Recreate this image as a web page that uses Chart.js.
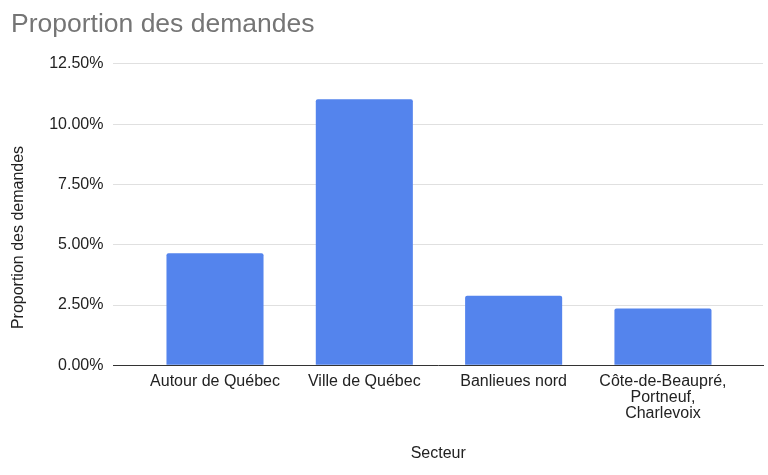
<!DOCTYPE html>
<html lang="fr">
<head>
<meta charset="utf-8">
<script src="https://cdn.jsdelivr.net/npm/chart.js@4/dist/chart.umd.min.js"></script>
<style>
    html, body { margin: 0; padding: 0; background: #ffffff; }
    #wrap { width: 768px; height: 475px; }
</style>
</head>
<body>
<div id="wrap"><canvas id="graphique"></canvas></div>
<script>
// Données du graphique
const secteurs = [
    'Autour de Québec',
    'Ville de Québec',
    'Banlieues nord',
    ['Côte-de-Beaupré,', 'Portneuf,', 'Charlevoix']
];
const proportions = [4.65, 11.03, 2.88, 2.36];
const ticksY = [0, 2.5, 5, 7.5, 10, 12.5];
const titreY = 'Proportion des demandes';

const police = "'Liberation Sans', Arial, sans-serif";

// Les barres sont placées sur un axe linéaire pour garder la marge de chaque côté
const points = proportions.map((v, i) => ({ x: i, y: v }));

// Titre de l'axe Y centré sur la hauteur du canevas (comme dans Google Sheets)
const titreAxeY = {
    id: 'titreAxeY',
    afterDraw(chart) {
        const ctx = chart.ctx;
        ctx.save();
        ctx.translate(19, chart.height / 2);
        ctx.rotate(-Math.PI / 2);
        ctx.font = '16px ' + police;
        ctx.fillStyle = '#222222';
        ctx.textAlign = 'center';
        ctx.textBaseline = 'middle';
        ctx.fillText(titreY, 0, 0);
        ctx.restore();
    }
};

new Chart(document.getElementById('graphique'), {
    type: 'bar',
    data: {
        datasets: [{
            label: titreY,
            data: points,
            backgroundColor: '#5484ed',
            borderRadius: { topLeft: 2, topRight: 2 },
            borderSkipped: 'bottom',
            barPercentage: 0.65,
            categoryPercentage: 1
        }]
    },
    plugins: [titreAxeY],
    options: {
        responsive: true,
        maintainAspectRatio: false,
        animation: false,
        layout: { padding: { left: 11, right: 5, top: 0, bottom: 12 } },
        plugins: {
            legend: { display: false },
            tooltip: { enabled: false },
            title: {
                display: true,
                text: 'Proportion des demandes',
                align: 'start',
                color: '#757575',
                font: { family: police, size: 26.5, weight: 'normal' },
                padding: { top: 9, bottom: 23 }
            }
        },
        scales: {
            x: {
                type: 'linear',
                offset: false,
                min: -0.68,
                max: 3.67,
                afterBuildTicks: (scale) => {
                    scale.ticks = secteurs.map((_, i) => ({ value: i }));
                },
                ticks: {
                    autoSkip: false,
                    maxRotation: 0,
                    padding: 8,
                    color: '#222222',
                    font: { family: police, size: 16, lineHeight: 1.0 },
                    callback: (v) => secteurs[v]
                },
                grid: { display: false, drawTicks: false, offset: false },
                border: { display: true, color: '#333333', width: 1 },
                title: {
                    display: true,
                    text: 'Secteur',
                    color: '#222222',
                    font: { family: police, size: 16 },
                    padding: { top: 14.5, bottom: 0 }
                }
            },
            y: {
                min: 0,
                max: 12.5,
                afterBuildTicks: (scale) => {
                    scale.ticks = ticksY.map(v => ({ value: v }));
                },
                // place réservée pour le titre de l'axe
                afterFit: (scale) => {
                    scale.width += 28.2;
                },
                ticks: {
                    padding: 10,
                    color: '#222222',
                    font: { family: police, size: 16 },
                    callback: (v) => v.toFixed(2) + '%'
                },
                grid: { color: '#e0e0e0', lineWidth: 1, drawTicks: false },
                border: { display: false },
                title: { display: false }
            }
        }
    }
});
</script>
</body>
</html>
